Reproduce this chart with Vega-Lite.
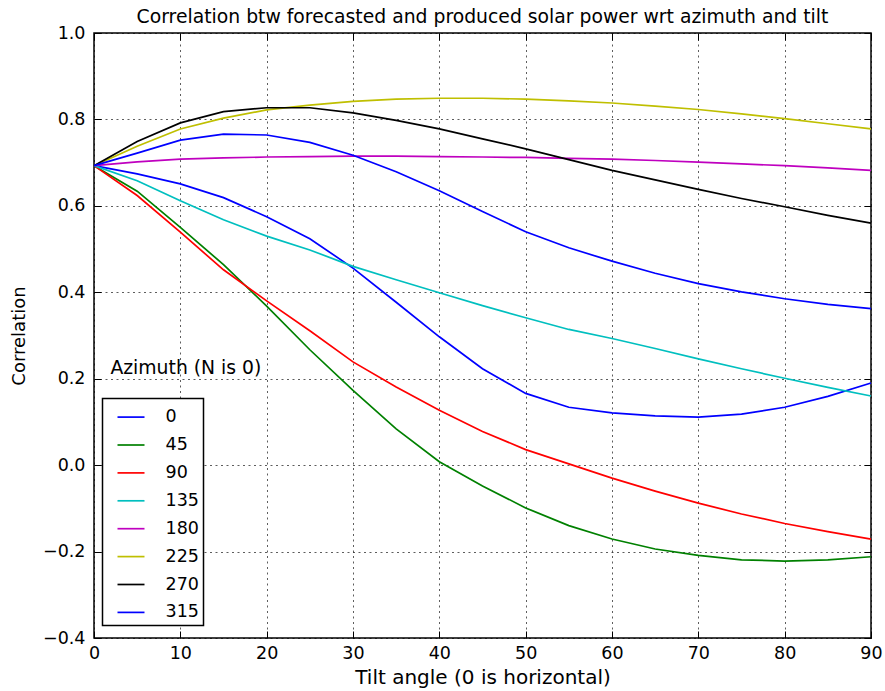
{
  "$schema": "https://vega.github.io/schema/vega-lite/v6.json",
  "width": 777,
  "height": 605,
  "autosize": {"type": "none"},
  "padding": {"left": 94, "top": 33, "right": 14, "bottom": 53},
  "background": "white",
  "config": {
    "font": "DejaVu Sans",
    "view": {"stroke": "black", "strokeWidth": 1.5},
    "axis": {"labelFont": "DejaVu Sans", "titleFont": "DejaVu Sans", "labelColor": "black", "titleColor": "black", "titleFontWeight": "normal", "tickColor": "black", "domain": false}
  },
  "title": {"text": "Correlation btw forecasted and produced solar power wrt azimuth and tilt", "fontSize": 18.8, "fontWeight": "normal", "font": "DejaVu Sans", "color": "black", "anchor": "middle", "offset": -3},
  "resolve": {"axis": {"x": "independent", "y": "independent"}},
  "layer": [
    {
      "data": {"values": [
        {"a":0,"t":0,"c":0.693},{"a":0,"t":5,"c":0.674},{"a":0,"t":10,"c":0.651},{"a":0,"t":15,"c":0.619},{"a":0,"t":20,"c":0.575},{"a":0,"t":25,"c":0.524},{"a":0,"t":30,"c":0.456},{"a":0,"t":35,"c":0.377},{"a":0,"t":40,"c":0.297},{"a":0,"t":45,"c":0.223},{"a":0,"t":50,"c":0.166},{"a":0,"t":55,"c":0.134},{"a":0,"t":60,"c":0.121},{"a":0,"t":65,"c":0.114},{"a":0,"t":70,"c":0.111},{"a":0,"t":75,"c":0.118},{"a":0,"t":80,"c":0.134},{"a":0,"t":85,"c":0.159},{"a":0,"t":90,"c":0.190},
        {"a":45,"t":0,"c":0.693},{"a":45,"t":5,"c":0.634},{"a":45,"t":10,"c":0.550},{"a":45,"t":15,"c":0.464},{"a":45,"t":20,"c":0.368},{"a":45,"t":25,"c":0.267},{"a":45,"t":30,"c":0.173},{"a":45,"t":35,"c":0.084},{"a":45,"t":40,"c":0.008},{"a":45,"t":45,"c":-0.048},{"a":45,"t":50,"c":-0.099},{"a":45,"t":55,"c":-0.140},{"a":45,"t":60,"c":-0.171},{"a":45,"t":65,"c":-0.194},{"a":45,"t":70,"c":-0.209},{"a":45,"t":75,"c":-0.219},{"a":45,"t":80,"c":-0.222},{"a":45,"t":85,"c":-0.219},{"a":45,"t":90,"c":-0.212},
        {"a":90,"t":0,"c":0.693},{"a":90,"t":5,"c":0.624},{"a":90,"t":10,"c":0.539},{"a":90,"t":15,"c":0.452},{"a":90,"t":20,"c":0.380},{"a":90,"t":25,"c":0.311},{"a":90,"t":30,"c":0.239},{"a":90,"t":35,"c":0.181},{"a":90,"t":40,"c":0.127},{"a":90,"t":45,"c":0.078},{"a":90,"t":50,"c":0.036},{"a":90,"t":55,"c":0.003},{"a":90,"t":60,"c":-0.030},{"a":90,"t":65,"c":-0.060},{"a":90,"t":70,"c":-0.088},{"a":90,"t":75,"c":-0.113},{"a":90,"t":80,"c":-0.135},{"a":90,"t":85,"c":-0.154},{"a":90,"t":90,"c":-0.171},
        {"a":135,"t":0,"c":0.693},{"a":135,"t":5,"c":0.658},{"a":135,"t":10,"c":0.612},{"a":135,"t":15,"c":0.568},{"a":135,"t":20,"c":0.530},{"a":135,"t":25,"c":0.498},{"a":135,"t":30,"c":0.460},{"a":135,"t":35,"c":0.429},{"a":135,"t":40,"c":0.399},{"a":135,"t":45,"c":0.369},{"a":135,"t":50,"c":0.341},{"a":135,"t":55,"c":0.314},{"a":135,"t":60,"c":0.293},{"a":135,"t":65,"c":0.270},{"a":135,"t":70,"c":0.246},{"a":135,"t":75,"c":0.223},{"a":135,"t":80,"c":0.201},{"a":135,"t":85,"c":0.180},{"a":135,"t":90,"c":0.160},
        {"a":180,"t":0,"c":0.693},{"a":180,"t":5,"c":0.702},{"a":180,"t":10,"c":0.708},{"a":180,"t":15,"c":0.711},{"a":180,"t":20,"c":0.713},{"a":180,"t":25,"c":0.714},{"a":180,"t":30,"c":0.715},{"a":180,"t":35,"c":0.715},{"a":180,"t":40,"c":0.714},{"a":180,"t":45,"c":0.713},{"a":180,"t":50,"c":0.712},{"a":180,"t":55,"c":0.710},{"a":180,"t":60,"c":0.708},{"a":180,"t":65,"c":0.705},{"a":180,"t":70,"c":0.701},{"a":180,"t":75,"c":0.697},{"a":180,"t":80,"c":0.693},{"a":180,"t":85,"c":0.688},{"a":180,"t":90,"c":0.682},
        {"a":225,"t":0,"c":0.693},{"a":225,"t":5,"c":0.738},{"a":225,"t":10,"c":0.778},{"a":225,"t":15,"c":0.803},{"a":225,"t":20,"c":0.822},{"a":225,"t":25,"c":0.833},{"a":225,"t":30,"c":0.842},{"a":225,"t":35,"c":0.847},{"a":225,"t":40,"c":0.849},{"a":225,"t":45,"c":0.849},{"a":225,"t":50,"c":0.847},{"a":225,"t":55,"c":0.843},{"a":225,"t":60,"c":0.838},{"a":225,"t":65,"c":0.831},{"a":225,"t":70,"c":0.823},{"a":225,"t":75,"c":0.813},{"a":225,"t":80,"c":0.802},{"a":225,"t":85,"c":0.790},{"a":225,"t":90,"c":0.778},
        {"a":270,"t":0,"c":0.693},{"a":270,"t":5,"c":0.749},{"a":270,"t":10,"c":0.792},{"a":270,"t":15,"c":0.818},{"a":270,"t":20,"c":0.827},{"a":270,"t":25,"c":0.827},{"a":270,"t":30,"c":0.815},{"a":270,"t":35,"c":0.798},{"a":270,"t":40,"c":0.778},{"a":270,"t":45,"c":0.755},{"a":270,"t":50,"c":0.732},{"a":270,"t":55,"c":0.707},{"a":270,"t":60,"c":0.682},{"a":270,"t":65,"c":0.660},{"a":270,"t":70,"c":0.638},{"a":270,"t":75,"c":0.617},{"a":270,"t":80,"c":0.598},{"a":270,"t":85,"c":0.578},{"a":270,"t":90,"c":0.560},
        {"a":315,"t":0,"c":0.693},{"a":315,"t":5,"c":0.722},{"a":315,"t":10,"c":0.752},{"a":315,"t":15,"c":0.766},{"a":315,"t":20,"c":0.764},{"a":315,"t":25,"c":0.747},{"a":315,"t":30,"c":0.717},{"a":315,"t":35,"c":0.679},{"a":315,"t":40,"c":0.635},{"a":315,"t":45,"c":0.587},{"a":315,"t":50,"c":0.540},{"a":315,"t":55,"c":0.503},{"a":315,"t":60,"c":0.472},{"a":315,"t":65,"c":0.444},{"a":315,"t":70,"c":0.420},{"a":315,"t":75,"c":0.401},{"a":315,"t":80,"c":0.385},{"a":315,"t":85,"c":0.372},{"a":315,"t":90,"c":0.362}
      ]},
      "mark": {"type": "line", "strokeWidth": 1.7},
      "encoding": {
        "x": {"field": "t", "type": "quantitative", "scale": {"domain": [0, 90], "nice": false, "zero": false},
          "axis": {"orient": "bottom", "title": "Tilt angle (0 is horizontal)", "values": [0,10,20,30,40,50,60,70,80,90], "format": "d", "labelFontSize": 17.5, "titleFontSize": 20, "tickSize": -7, "labelPadding": 13, "titlePadding": 6, "grid": true, "gridColor": "black", "gridDash": [2, 3.5], "gridWidth": 0.8, "gridOpacity": 0.8, "labelFlush": false}},
        "y": {"field": "c", "type": "quantitative", "scale": {"domain": [-0.4, 1.0], "nice": false, "zero": false},
          "axis": {"orient": "left", "title": "Correlation", "values": [-0.4,-0.2,0,0.2,0.4,0.6,0.8,1.0], "format": ".1f", "labelFontSize": 17.5, "titleFontSize": 18, "tickSize": -7, "labelPadding": 16, "titlePadding": 14, "grid": true, "gridColor": "black", "gridDash": [2, 3.5], "gridWidth": 0.8, "gridOpacity": 0.8, "labelFlush": false}},
        "color": {"field": "a", "type": "nominal", "sort": [0,45,90,135,180,225,270,315],
          "scale": {"domain": [0,45,90,135,180,225,270,315], "range": ["#0000ff","#008000","#ff0000","#00bfbf","#bf00bf","#bfbf00","#000000","#0000ff"]},
          "legend": {"orient": "none", "legendX": 8.5, "legendY": 365.6, "title": null, "symbolType": "stroke", "symbolSize": 729, "symbolStrokeWidth": 1.7, "symbolOffset": 10, "labelOffset": 20, "labelFontSize": 17.5, "labelFont": "DejaVu Sans", "labelColor": "black", "rowPadding": 4.9, "padding": 4, "strokeColor": "black", "fillColor": "white", "labelExpr": "datum.label + '\u00a0\u00a0'",
            "encode": {"legend": {"update": {"strokeWidth": {"value": 1.5}}}}}}
      }
    },
    {
      "data": {"values": [{"t": 1.9, "c": 0.224, "label": "Azimuth (N is 0)"}]},
      "mark": {"type": "text", "align": "left", "baseline": "middle", "fontSize": 18.8, "font": "DejaVu Sans", "color": "black"},
      "encoding": {
        "x": {"field": "t", "type": "quantitative", "axis": {"orient": "top", "title": null, "labels": false, "grid": false, "values": [0,10,20,30,40,50,60,70,80,90], "tickSize": -7, "labelPadding": 0}},
        "y": {"field": "c", "type": "quantitative", "axis": {"orient": "right", "title": null, "labels": false, "grid": false, "values": [-0.4,-0.2,0,0.2,0.4,0.6,0.8,1.0], "tickSize": -7, "labelPadding": 0}},
        "text": {"field": "label"}
      }
    }
  ]
}
